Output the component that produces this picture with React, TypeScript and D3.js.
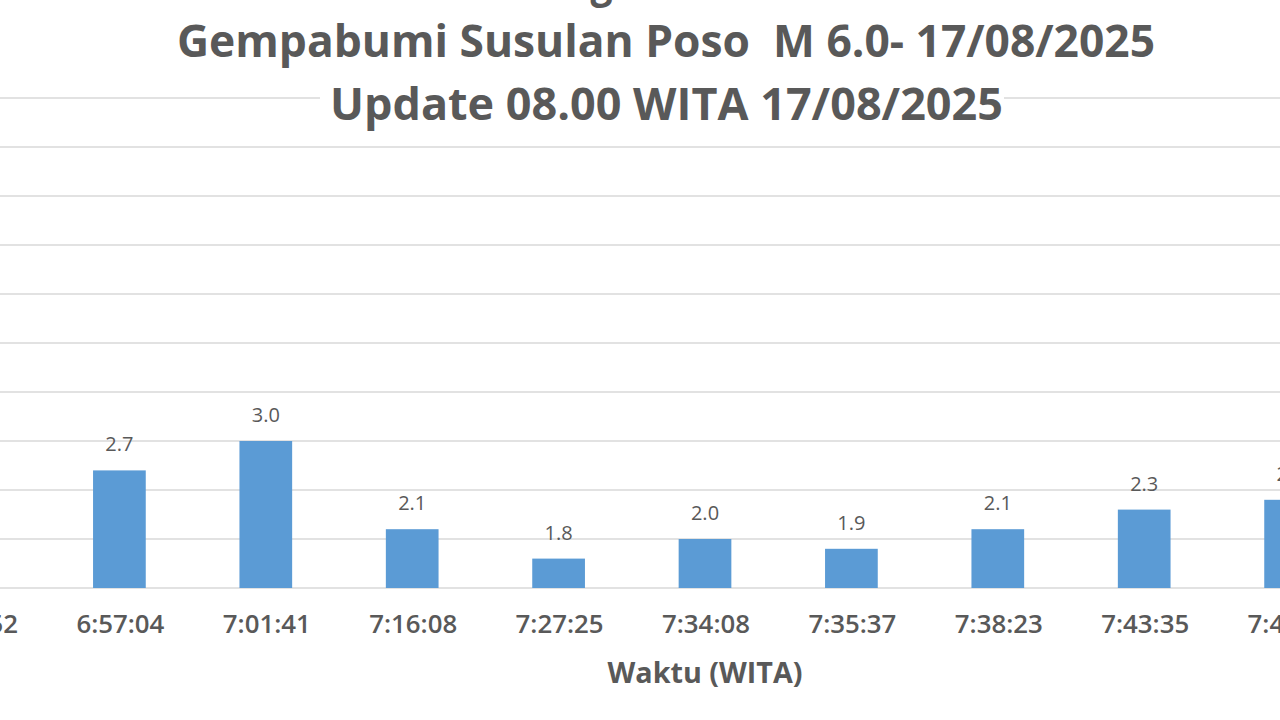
import * as d3 from "d3";

// waktu kejadian (WITA) — first and last are cut off in the picture
const waktu = ["6:49:52", "6:57:04", "7:01:41", "7:16:08", "7:27:25", "7:34:08", "7:35:37", "7:38:23", "7:43:35", "7:48:10"];
const magnitudo = [2.5, 2.7, 3.0, 2.1, 1.8, 2.0, 1.9, 2.1, 2.3, 2.4];
const yTicks = [1.5, 2.0, 2.5, 3.0, 3.5, 4.0, 4.5, 5.0, 5.5, 6.0, 6.5];

const titleLines = [
  "Monitoring Aktivitas Terkini",
  "Gempabumi Susulan Poso  M 6.0- 17/08/2025",
  "Update 08.00 WITA 17/08/2025",
];
const xTitle = "Waktu (WITA)";

const W = 1280;
const H = 720;
const textColor = "#595959";
const font = "'Open Sans', 'Noto Sans', sans-serif";

// keep double spaces in the title visible
const keepSpaces = (s: string) => s.replace(/ {2}/g, "\u00a0 ");

export default function App() {
  const step = 146.4;
  const x = d3
    .scaleBand<string>()
    .domain(waktu)
    .range([-100.2, -100.2 + step * waktu.length])
    .paddingInner(0.64)
    .paddingOuter(0.32);

  const y = d3.scaleLinear().domain([1.5, 6.5]).range([588, 98]);

  const cx = (d: string) => (x(d) ?? 0) + x.bandwidth() / 2;

  return (
    <svg width={W} height={H} style={{ position: "absolute", left: 0, top: 0, background: "#fff" }}>
      {/* gridlines */}
      <g>
        {yTicks.map((t) => (
          <line key={t} x1={0} x2={W} y1={y(t)} y2={y(t)} stroke="#d9d9d9" strokeWidth={1.5} />
        ))}
      </g>

      {/* bars */}
      <g>
        {waktu.map((d, i) => (
          <rect
            key={d}
            x={x(d)}
            y={y(magnitudo[i])}
            width={x.bandwidth()}
            height={y(1.5) - y(magnitudo[i])}
            fill="#5b9bd5"
          />
        ))}
      </g>

      {/* value labels */}
      <g fontFamily={font} fontSize={20} fill={textColor} textAnchor="middle">
        {waktu.map((d, i) => (
          <text key={d} x={cx(d)} y={y(magnitudo[i]) - 19}>
            {magnitudo[i].toFixed(1)}
          </text>
        ))}
      </g>

      {/* x tick labels */}
      <g fontFamily={font} fontSize={25} fontWeight={600} fill={textColor} textAnchor="middle">
        {waktu.map((d) => (
          <text key={d} x={cx(d) + 1} y={633} textLength={88} lengthAdjust="spacingAndGlyphs">
            {d}
          </text>
        ))}
      </g>

      <text
        x={705}
        y={683}
        fontFamily={font}
        fontSize={28}
        fontWeight={700}
        fill={textColor}
        textAnchor="middle"
        textLength={195}
        lengthAdjust="spacingAndGlyphs"
      >
        {xTitle}
      </text>

      {/* title, with a white box that breaks the top gridline */}
      <rect x={320} y={82} width={684} height={44} fill="#fff" />
      <g fontFamily={font} fontSize={44} fontWeight={700} fill={textColor}>
        <text x={395} y={-3} textLength={550} lengthAdjust="spacingAndGlyphs">
          {keepSpaces(titleLines[0])}
        </text>
        <text x={177} y={57} textLength={978} lengthAdjust="spacingAndGlyphs">
          {keepSpaces(titleLines[1])}
        </text>
        <text x={330} y={120} textLength={673} lengthAdjust="spacingAndGlyphs">
          {keepSpaces(titleLines[2])}
        </text>
      </g>
    </svg>
  );
}
